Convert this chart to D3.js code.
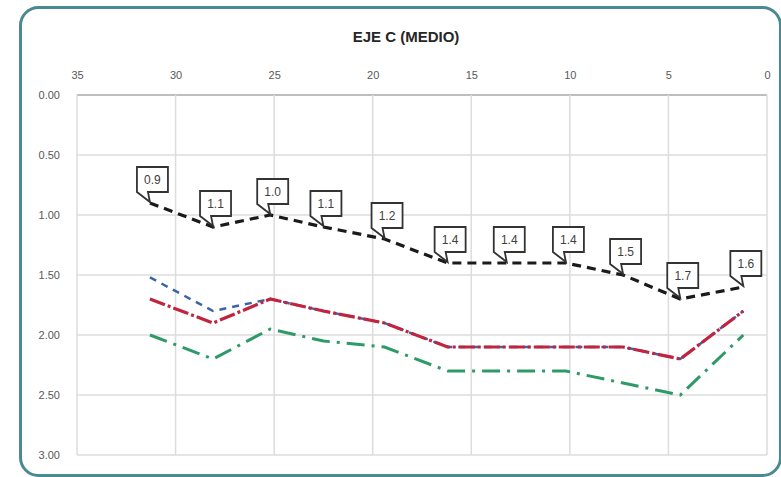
<!DOCTYPE html>
<html>
<head>
<meta charset="utf-8">
<script src="https://cdn.jsdelivr.net/npm/d3@7"></script>
<style>
  html, body { margin: 0; padding: 0; background: #ffffff; }
  svg { display: block; }
</style>
</head>
<body>
<svg id="chart" width="781" height="477"></svg>
<script>
// ---- data ----
const title = "EJE C (MEDIO)";
const distances = [31.3, 28.1, 25.2, 22.5, 19.4, 16.2, 13.2, 10.2, 7.3, 4.4, 1.2];
const seriesBlack = [0.9, 1.1, 1.0, 1.1, 1.2, 1.4, 1.4, 1.4, 1.5, 1.7, 1.6];
const seriesRed   = [1.7, 1.9, 1.7, 1.8, 1.9, 2.1, 2.1, 2.1, 2.1, 2.2, 1.8];
const seriesBlue  = [1.52, 1.8, 1.7, 1.8, 1.9, 2.1, 2.1, 2.1, 2.1, 2.2, 1.8];
const seriesGreen = [2.0, 2.2, 1.95, 2.05, 2.1, 2.3, 2.3, 2.3, 2.4, 2.5, 2.0];
const xTicks = [35, 30, 25, 20, 15, 10, 5, 0];
const yTicks = [0, 0.5, 1.0, 1.5, 2.0, 2.5, 3.0];

// ---- layout ----
const svg = d3.select("#chart");
const x = d3.scaleLinear().domain([35, 0]).range([77, 767]);
const y = d3.scaleLinear().domain([0, 3]).range([95, 455]);

// frame
svg.append("rect")
  .attr("x", 20.5).attr("y", 7.5).attr("width", 760).attr("height", 468)
  .attr("rx", 18).attr("ry", 18)
  .attr("fill", "#ffffff").attr("stroke", "#4b8a93").attr("stroke-width", 3);

// grid
const grid = svg.append("g");
grid.selectAll("line.h").data(yTicks).join("line")
  .attr("x1", x(35)).attr("x2", x(0))
  .attr("y1", d => y(d)).attr("y2", d => y(d))
  .attr("stroke", d => d === 0 ? "#a9a9a9" : "#dcdcdc")
  .attr("stroke-width", 1.5);
grid.selectAll("line.v").data(xTicks).join("line")
  .attr("x1", d => x(d)).attr("x2", d => x(d))
  .attr("y1", y(0)).attr("y2", y(3))
  .attr("stroke", "#dcdcdc").attr("stroke-width", 1.5);

// axes (top x-axis, left y-axis)
const xAxis = d3.axisTop(x).tickValues(xTicks).tickFormat(d3.format("d")).tickSize(0).tickPadding(16);
const gx = svg.append("g").attr("transform", `translate(0,${y(0)})`).call(xAxis);
gx.select(".domain").remove();
gx.selectAll("text").attr("fill", "#595959").style("font-family", "Liberation Sans, Arial, sans-serif").style("font-size", "11px");

const yAxis = d3.axisLeft(y).tickValues(yTicks).tickFormat(d3.format(".2f")).tickSize(0).tickPadding(17);
const gy = svg.append("g").attr("transform", `translate(${x(35)},0)`).call(yAxis);
gy.select(".domain").remove();
gy.selectAll("text").attr("fill", "#595959").style("font-family", "Liberation Sans, Arial, sans-serif").style("font-size", "11px");

// title
svg.append("text")
  .attr("x", 406).attr("y", 42)
  .attr("text-anchor", "middle")
  .style("font-family", "Liberation Sans Narrow, Arial Narrow, Liberation Sans, sans-serif")
  .style("font-weight", "bold").style("font-size", "15px")
  .attr("fill", "#262626")
  .text(title);

// lines
const line = d3.line().x(d => x(d[0])).y(d => y(d[1]));
function pts(vals) { return distances.map((d, i) => [d, vals[i]]); }

svg.append("path").datum(pts(seriesGreen))
  .attr("d", line).attr("fill", "none")
  .attr("stroke", "#2e9a68").attr("stroke-width", 3)
  .attr("stroke-dasharray", "18,7,3,7");
svg.append("path").datum(pts(seriesBlue))
  .attr("d", line).attr("fill", "none")
  .attr("stroke", "#3b63a8").attr("stroke-width", 2.5)
  .attr("stroke-dasharray", "7,6");
svg.append("path").datum(pts(seriesRed))
  .attr("d", line).attr("fill", "none")
  .attr("stroke", "#c0243f").attr("stroke-width", 3.2)
  .attr("stroke-dasharray", "16,3,3,3");
svg.append("path").datum(pts(seriesBlack))
  .attr("d", line).attr("fill", "none")
  .attr("stroke", "#1a1a1a").attr("stroke-width", 3.2)
  .attr("stroke-dasharray", "9,6");

// callout labels for black series
const bw = 31, bh = 25;
const callouts = svg.append("g");
pts(seriesBlack).forEach(p => {
  const px = x(p[0]), py = y(p[1]);
  const left = px - 13, bottom = py - 11, top = bottom - bh, right = left + bw;
  callouts.append("path")
    .attr("d", `M${left},${top} H${right} V${bottom} H${left + 11} L${px},${py - 1} L${left},${bottom} Z`)
    .attr("fill", "#ffffff").attr("stroke", "#333333").attr("stroke-width", 1.8);
  callouts.append("text")
    .attr("x", left + bw / 2).attr("y", top + bh / 2 + 4.5)
    .attr("text-anchor", "middle")
    .style("font-family", "Liberation Sans Narrow, Arial Narrow, Liberation Sans, sans-serif")
    .style("font-size", "12px")
    .attr("fill", "#404040")
    .text(d3.format(".1f")(p[1]));
});
</script>
</body>
</html>
